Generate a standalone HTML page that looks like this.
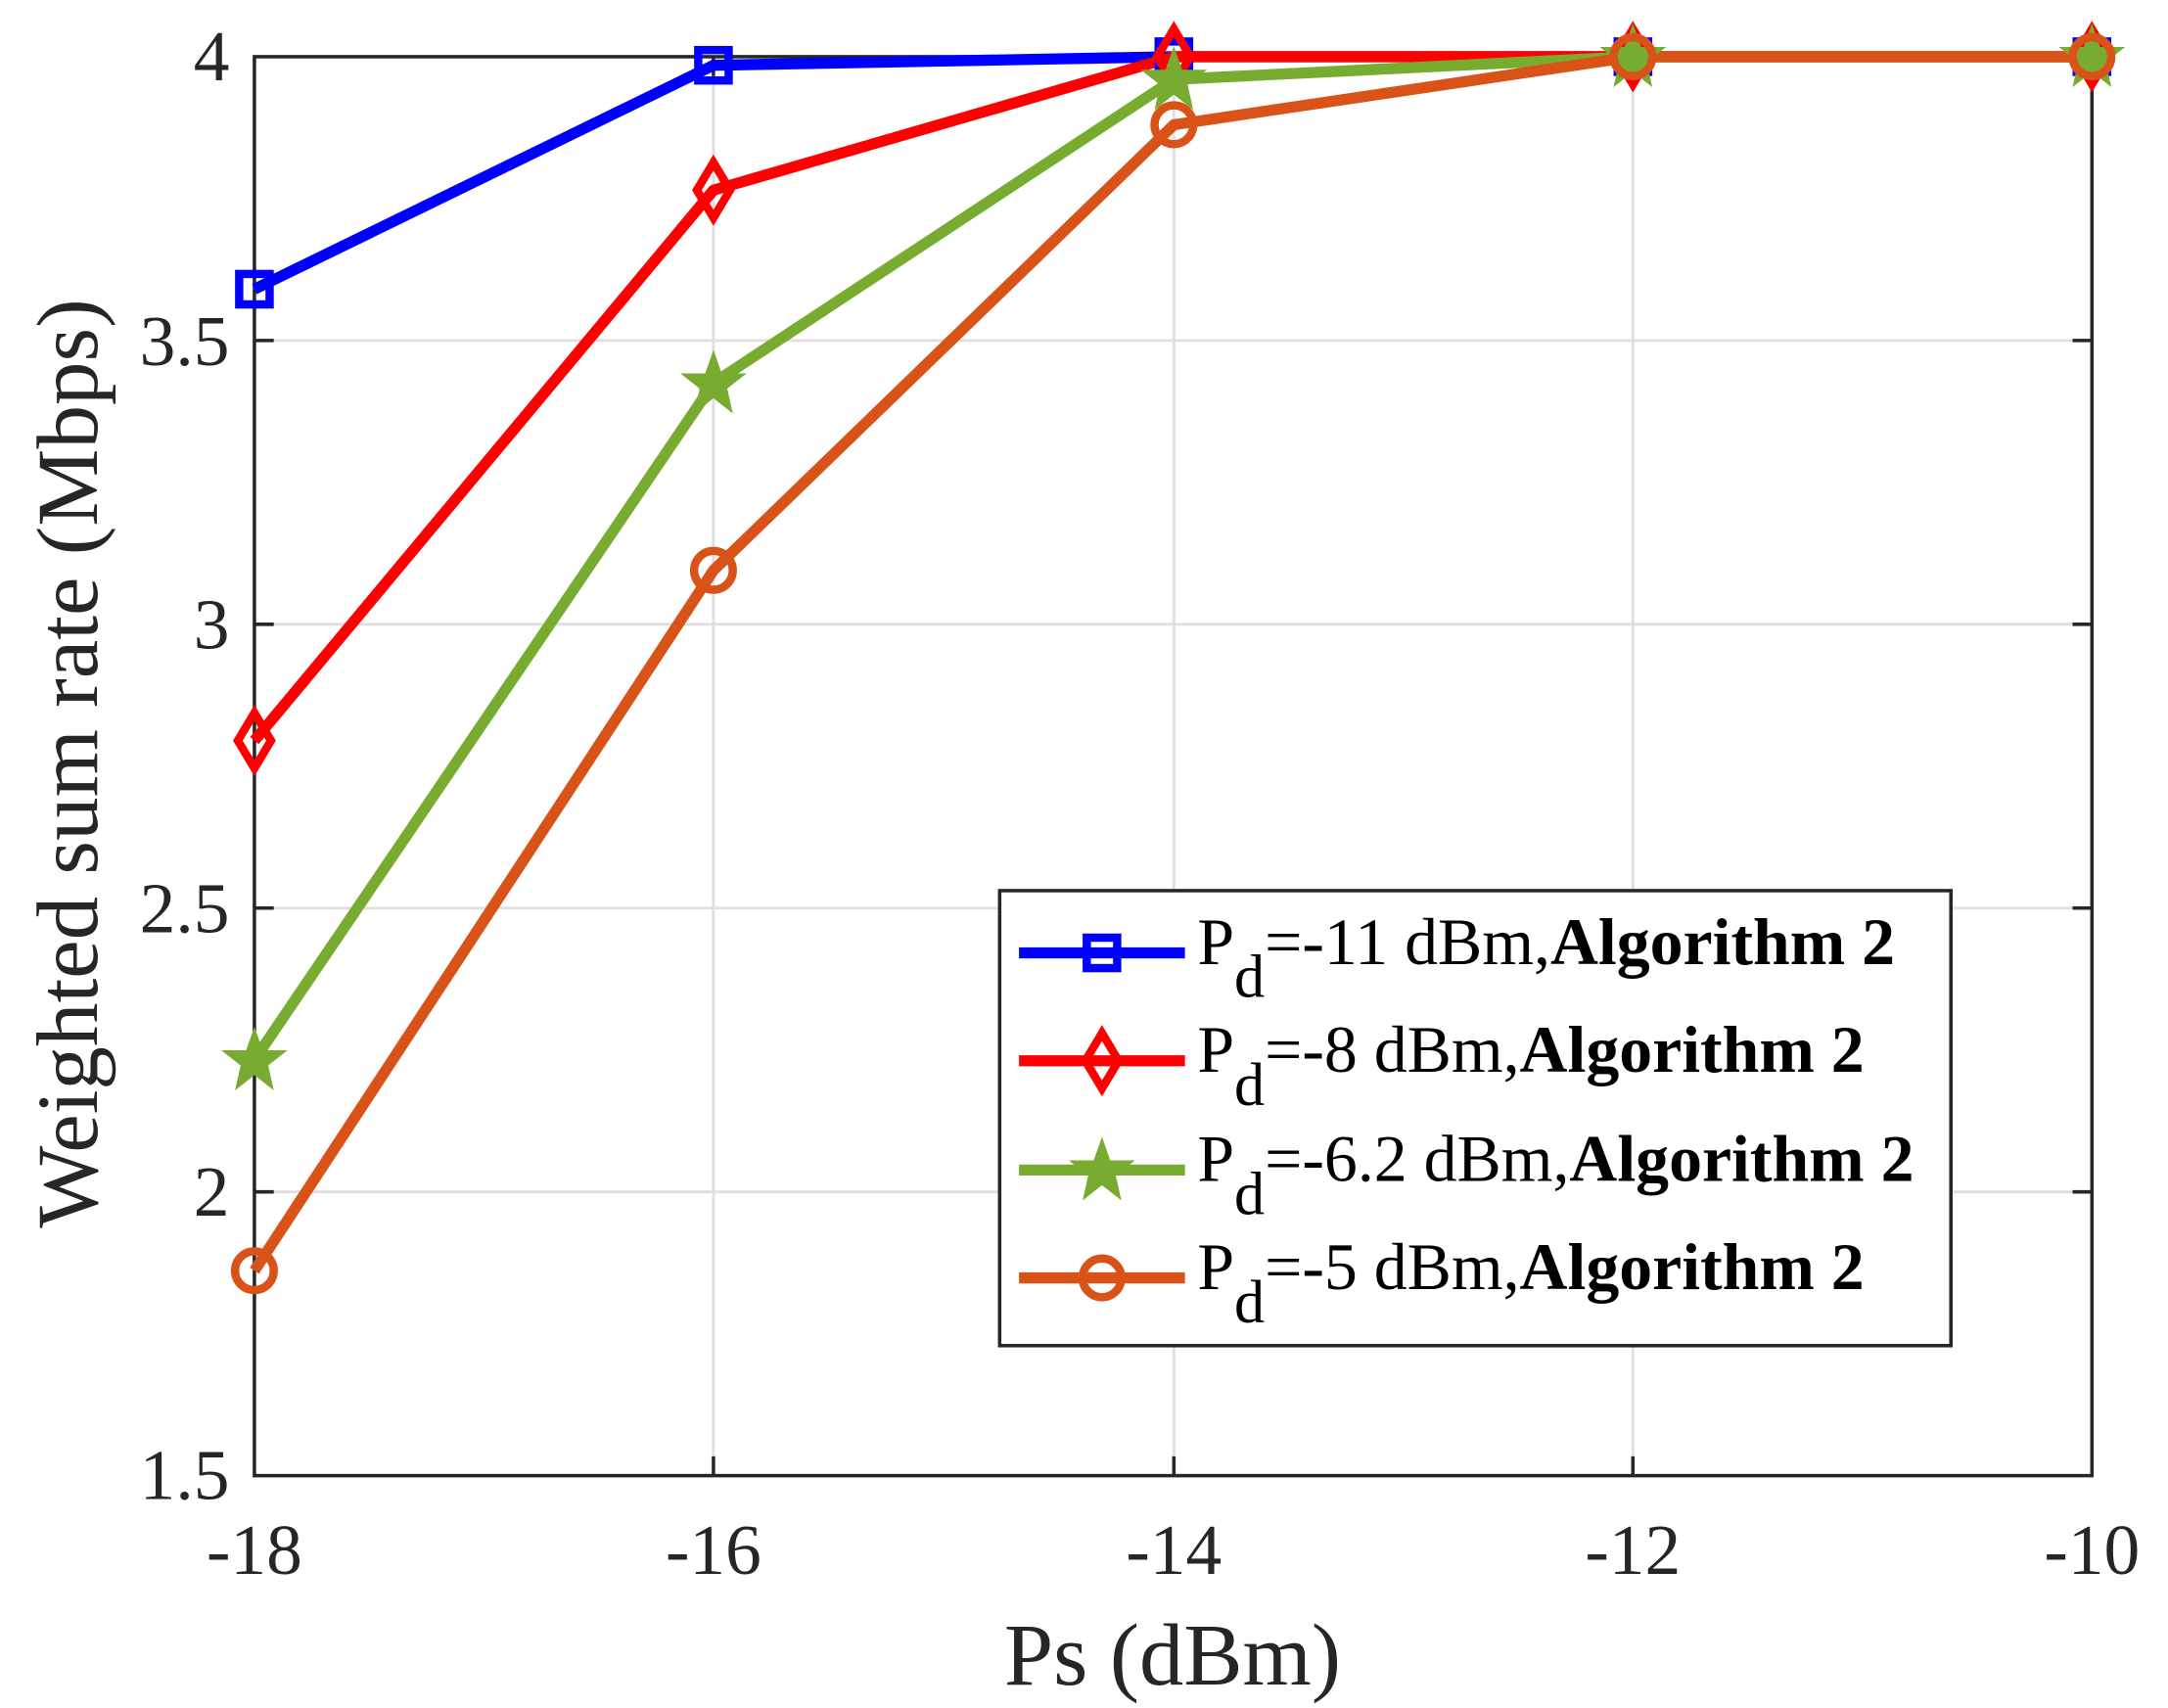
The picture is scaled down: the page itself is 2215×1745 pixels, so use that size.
<!DOCTYPE html>
<html><head><meta charset="utf-8"><style>
html,body{margin:0;padding:0;background:#fff;}
svg{display:block;}
text{font-family:"Liberation Serif",serif;fill:#262626;}
</style></head><body>
<svg width="2215" height="1745" viewBox="0 0 1568 1235" preserveAspectRatio="none" xmlns="http://www.w3.org/2000/svg">
<rect width="1568" height="1235" fill="#fff"/>
<g stroke="#dfdfdf" stroke-width="2">
<line x1="516" y1="41" x2="516" y2="1067"/><line x1="849" y1="41" x2="849" y2="1067"/><line x1="1181" y1="41" x2="1181" y2="1067"/>
<line x1="184" y1="246.2" x2="1513" y2="246.2"/><line x1="184" y1="451.4" x2="1513" y2="451.4"/><line x1="184" y1="656.6" x2="1513" y2="656.6"/><line x1="184" y1="861.8" x2="1513" y2="861.8"/>
</g>
<g stroke="#262626" stroke-width="2.5" fill="none">
<rect x="184" y="41" width="1329" height="1026"/>
<path d="M516 41v14M849 41v14M1181 41v14M516 1067v-14M849 1067v-14M1181 1067v-14"/>
<path d="M184 246.2h14M184 451.4h14M184 656.6h14M184 861.8h14M1513 246.2h-14M1513 451.4h-14M1513 656.6h-14M1513 861.8h-14"/>
</g>
<g font-size="52" text-anchor="end">
<text x="166" y="58">4</text><text x="166" y="264">3.5</text><text x="166" y="469">3</text><text x="166" y="674">2.5</text><text x="166" y="879">2</text><text x="166" y="1084">1.5</text>
</g>
<g font-size="52" text-anchor="middle">
<text x="184" y="1138">-18</text><text x="516" y="1138">-16</text><text x="849" y="1138">-14</text><text x="1181" y="1138">-12</text><text x="1513" y="1138">-10</text>
</g>
<text x="848" y="1218" font-size="64" text-anchor="middle">Ps (dBm)</text>
<text transform="translate(70,552) rotate(-90)" font-size="63" text-anchor="middle">Weighted sum rate (Mbps)</text>

<g fill="none" stroke-width="8" stroke-linejoin="round">
<polyline stroke="#0000ff" points="184,209.1 516,47.2 849,41 1181,41 1513,41"/>
<polyline stroke="#ff0000" points="184,535.5 516,137.5 849,41 1181,41 1513,41"/>
<polyline stroke="#77ac30" points="184,766.4 516,277.0 849,57.4 1181,41 1513,41"/>
<polyline stroke="#d95319" points="184,918.8 516,412.4 849,90.2 1181,41 1513,41"/>
</g>
<defs>
<g id="sq"><rect x="-11" y="-11" width="22" height="22" fill="none" stroke="#0000ff" stroke-width="6"/></g>
<g id="di"><path d="M0,-20 L12,0 L0,20 L-12,0Z" fill="none" stroke="#ff0000" stroke-width="6"/></g>
<g id="st"><path d="M0,-24 L6,-7 L24,-7 L10,4 L14,22 L0,11 L-14,22 L-10,4 L-24,-7 L-6,-7Z" fill="#77ac30"/></g>
<g id="ci"><circle r="14" fill="none" stroke="#d95319" stroke-width="6"/></g>
</defs>
<use href="#sq" x="184" y="209.1"/><use href="#sq" x="516" y="47.2"/><use href="#sq" x="849" y="41"/><use href="#sq" x="1181" y="41"/><use href="#sq" x="1513" y="41"/>
<use href="#di" x="184" y="535.5"/><use href="#di" x="516" y="137.5"/><use href="#di" x="849" y="41"/><use href="#di" x="1181" y="41"/><use href="#di" x="1513" y="41"/>
<use href="#st" x="184" y="766.4"/><use href="#st" x="516" y="277"/><use href="#st" x="849" y="57.4"/><use href="#st" x="1181" y="41"/><use href="#st" x="1513" y="41"/>
<use href="#ci" x="184" y="918.8"/><use href="#ci" x="516" y="412.4"/><use href="#ci" x="849" y="90.2"/><use href="#ci" x="1181" y="41"/><use href="#ci" x="1513" y="41"/>

<rect x="723" y="644" width="688" height="329" fill="#fff" stroke="#262626" stroke-width="2.5"/>
<g stroke-width="8">
<line x1="737" y1="689" x2="857" y2="689" stroke="#0000ff"/>
<line x1="737" y1="767" x2="857" y2="767" stroke="#ff0000"/>
<line x1="737" y1="846" x2="857" y2="846" stroke="#77ac30"/>
<line x1="737" y1="924" x2="857" y2="924" stroke="#d95319"/>
</g>
<use href="#sq" x="797" y="689"/><use href="#di" x="797" y="767"/><use href="#st" x="797" y="846"/><use href="#ci" x="797" y="924"/>
<g font-size="48">
<text x="866" y="697" style="fill:#000">P<tspan dy="24" font-size="44">d</tspan><tspan dy="-24">=-11 dBm,</tspan><tspan font-weight="bold">Algorithm 2</tspan></text>
<text x="866" y="775" style="fill:#000">P<tspan dy="24" font-size="44">d</tspan><tspan dy="-24">=-8 dBm,</tspan><tspan font-weight="bold">Algorithm 2</tspan></text>
<text x="866" y="854" style="fill:#000">P<tspan dy="24" font-size="44">d</tspan><tspan dy="-24">=-6.2 dBm,</tspan><tspan font-weight="bold">Algorithm 2</tspan></text>
<text x="866" y="932" style="fill:#000">P<tspan dy="24" font-size="44">d</tspan><tspan dy="-24">=-5 dBm,</tspan><tspan font-weight="bold">Algorithm 2</tspan></text>
</g>
</svg>
</body></html>
